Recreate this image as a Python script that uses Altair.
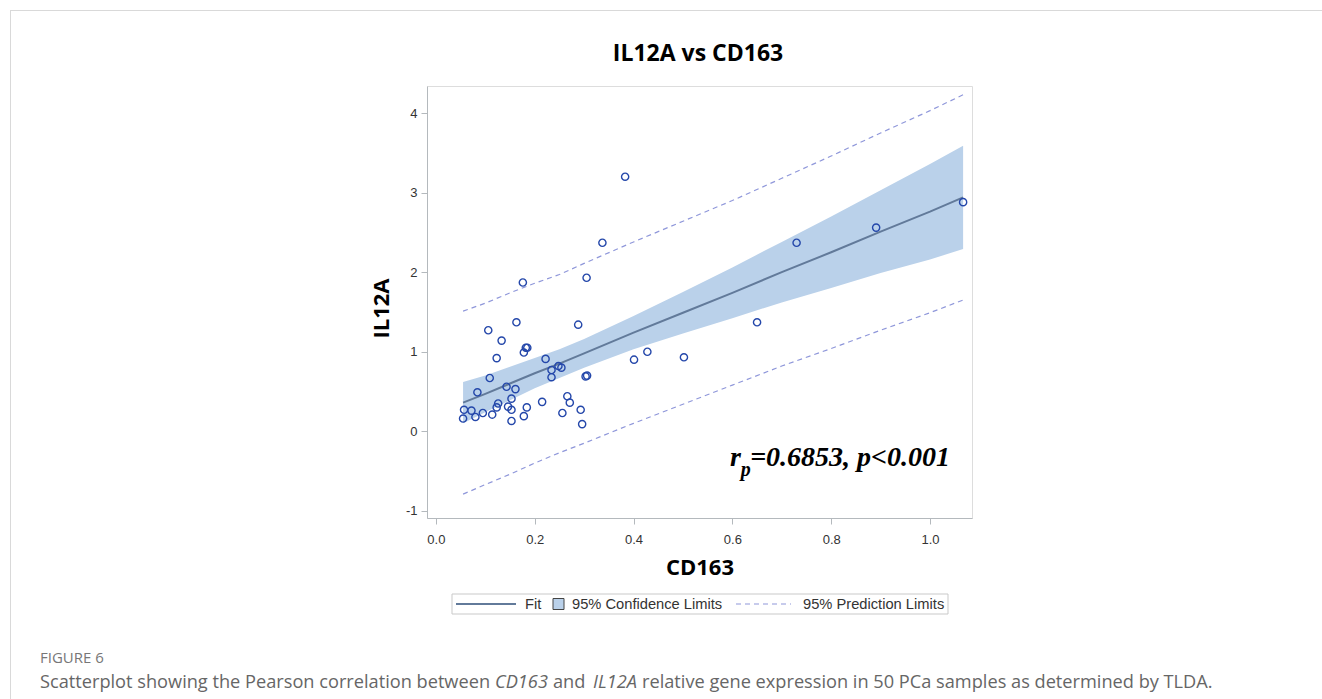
import altair as alt
import pandas as pd

# ---- data ----
cd163 = [0.176, 0.305, 0.163, 0.106, 0.288, 0.133, 0.182, 0.178, 0.123, 0.222,
         0.109, 0.234, 0.248, 0.254, 0.234, 0.303, 0.306, 0.084, 0.143, 0.161,
         0.153, 0.126, 0.123, 0.146, 0.153, 0.184, 0.215, 0.266, 0.271, 0.293,
         0.256, 0.178, 0.153, 0.296, 0.057, 0.072, 0.095, 0.114, 0.055, 0.080,
         0.383, 0.337, 0.428, 0.401, 0.502, 0.891, 0.730, 0.650, 1.067, 0.185]
il12a = [1.87, 1.93, 1.37, 1.27, 1.34, 1.14, 1.05, 0.99, 0.92, 0.91,
         0.67, 0.77, 0.82, 0.80, 0.68, 0.69, 0.70, 0.49, 0.56, 0.53,
         0.41, 0.35, 0.30, 0.31, 0.27, 0.30, 0.37, 0.44, 0.36, 0.27,
         0.23, 0.19, 0.13, 0.09, 0.27, 0.26, 0.23, 0.21, 0.16, 0.18,
         3.20, 2.37, 1.00, 0.90, 0.93, 2.56, 2.37, 1.37, 2.88, 1.05]

band_x = [0.055, 0.10, 0.15, 0.20, 0.25, 0.30, 0.40, 0.50, 0.60, 0.70, 0.80, 0.90, 1.00, 1.067]
fit_y = [0.36, 0.47, 0.60, 0.73, 0.85, 0.98, 1.24, 1.49, 1.74, 2.00, 2.25, 2.51, 2.76, 2.94]
cl_lo = [0.10, 0.24, 0.39, 0.54, 0.67, 0.80, 1.03, 1.23, 1.42, 1.62, 1.80, 1.99, 2.16, 2.29]
cl_hi = [0.62, 0.70, 0.81, 0.92, 1.03, 1.16, 1.45, 1.75, 2.06, 2.38, 2.70, 3.03, 3.36, 3.59]
pl_lo = [-0.79, -0.67, -0.54, -0.40, -0.27, -0.15, 0.10, 0.34, 0.58, 0.82, 1.04, 1.27, 1.49, 1.65]
pl_hi = [1.51, 1.61, 1.74, 1.86, 1.97, 2.11, 2.38, 2.64, 2.90, 3.18, 3.46, 3.75, 4.03, 4.23]

x_ticks = [0.0, 0.2, 0.4, 0.6, 0.8, 1.0]
y_ticks = [-1, 0, 1, 2, 3, 4]
x_domain = [-0.018, 1.085]
y_domain = [-1.09, 4.34]

chart_title = "IL12A vs CD163"
x_title = "CD163"
y_title = "IL12A"
stat_r = "r"
stat_sub = "p"
stat_rest = "=0.6853, p<0.001"
legend_labels = ["Fit", "95% Confidence Limits", "95% Prediction Limits"]
fig_label = "FIGURE 6"
caption_parts = ["Scatterplot showing the Pearson correlation between ", "CD163", " and ",
                 "IL12A", " relative gene expression in 50 PCa samples as determined by TLDA."]

# ---- styles ----
PT_COLOR = "#2447aa"
FIT_COLOR = "#627a9a"
BAND_COLOR = "#bad1ea"
PL_COLOR = "#8f97da"
GRID_GRAY = "#b4b9bd"
SANS = "Liberation Sans"
TITLE_FONT = "Open Sans"

pts = pd.DataFrame({"x": cd163, "y": il12a})
band = pd.DataFrame({"x": band_x, "fit": fit_y, "cl_lo": cl_lo, "cl_hi": cl_hi,
                     "pl_lo": pl_lo, "pl_hi": pl_hi})

xs = alt.Scale(domain=x_domain, nice=False, zero=False)
ys = alt.Scale(domain=y_domain, nice=False, zero=False)

x_axis = alt.Axis(values=x_ticks, format=".1f", title=x_title, grid=False,
                  labelFont=SANS, labelFontSize=13, labelColor="#333333",
                  tickColor=GRID_GRAY, tickSize=6, labelPadding=9,
                  domainColor=GRID_GRAY, titleFont=TITLE_FONT, titleFontSize=22,
                  titleFontWeight="bold", titleColor="#000000", titlePadding=11)
y_axis = alt.Axis(values=y_ticks, title=y_title, grid=False,
                  labelExpr="'' + datum.value",
                  labelFont=SANS, labelFontSize=13, labelColor="#333333",
                  tickColor=GRID_GRAY, tickSize=6, labelPadding=4,
                  domainColor=GRID_GRAY, titleFont=TITLE_FONT, titleFontSize=22,
                  titleFontWeight="bold", titleColor="#000000", titlePadding=12,
                  titleY=222)

base = alt.Chart(band)
area = base.mark_area(color=BAND_COLOR, opacity=1).encode(
    x=alt.X("x:Q", scale=xs, axis=x_axis),
    y=alt.Y("cl_lo:Q", scale=ys, axis=y_axis),
    y2="cl_hi:Q")
fit = base.mark_line(color=FIT_COLOR, strokeWidth=2).encode(
    x=alt.X("x:Q", scale=xs), y=alt.Y("fit:Q", scale=ys))
pl1 = base.mark_line(color=PL_COLOR, strokeWidth=1.2, strokeDash=[5, 4]).encode(
    x=alt.X("x:Q", scale=xs), y=alt.Y("pl_lo:Q", scale=ys))
pl2 = base.mark_line(color=PL_COLOR, strokeWidth=1.2, strokeDash=[5, 4]).encode(
    x=alt.X("x:Q", scale=xs), y=alt.Y("pl_hi:Q", scale=ys))
points = alt.Chart(pts).mark_point(shape="circle", filled=False, size=52,
                                   strokeWidth=1.4, color=PT_COLOR, opacity=1).encode(
    x=alt.X("x:Q", scale=xs), y=alt.Y("y:Q", scale=ys))

# annotation anchored in data coordinates
ann = pd.DataFrame({"x": [0.595, 0.617, 0.636], "y": [-0.44, -0.56, -0.44],
                    "t": [stat_r, stat_sub, stat_rest]})
ann_main = alt.Chart(ann.iloc[[0, 2]]).mark_text(
    font="Liberation Serif", fontSize=28, fontStyle="italic", fontWeight="bold",
    align="left", baseline="alphabetic", color="#000000").encode(
    x=alt.X("x:Q", scale=xs), y=alt.Y("y:Q", scale=ys), text="t:N")
ann_sub = alt.Chart(ann.iloc[[1]]).mark_text(
    font="Liberation Serif", fontSize=20, fontStyle="italic", fontWeight="bold",
    align="left", baseline="alphabetic", color="#000000").encode(
    x=alt.X("x:Q", scale=xs), y=alt.Y("y:Q", scale=ys), text="t:N")

one = pd.DataFrame({"k": [0]})
# plot origin at (427, 86) in page pixels; decorations are offsets from it
OX, OY = 427, 86


def px(v):
    return alt.value(v - OX)


def py(v):
    return alt.value(v - OY)


title_txt = alt.Chart(one).mark_text(
    text=chart_title, font=TITLE_FONT, fontSize=23, fontWeight="bold", color="#000000",
    align="center", baseline="middle").encode(x=px(698), y=py(54))

frame_top = alt.Chart(one).mark_rule(color="#d9d9d9", strokeWidth=1).encode(
    x=px(10), x2=px(1322), y=py(10.5))
frame_left = alt.Chart(one).mark_rule(color="#d9d9d9", strokeWidth=1).encode(
    x=px(10.5), y=py(10), y2=py(699))

leg_box = alt.Chart(one).mark_rect(fill="#ffffff", stroke="#c9c9c9", strokeWidth=1).encode(
    x=px(452), x2=px(948), y=py(594), y2=py(614))
leg_line = alt.Chart(one).mark_rule(color=FIT_COLOR, strokeWidth=2).encode(
    x=px(456), x2=px(516), y=py(604))
leg_sq = alt.Chart(one).mark_rect(fill=BAND_COLOR, stroke="#444444", strokeWidth=1).encode(
    x=px(553), x2=px(564), y=py(598.5), y2=py(609.5))
leg_dash = alt.Chart(one).mark_rule(color=PL_COLOR, strokeWidth=1.2, strokeDash=[5, 4]).encode(
    x=px(736), x2=px(791), y=py(604))
leg_texts = []
for lab, xpos in zip(legend_labels, [525, 572, 803]):
    leg_texts.append(alt.Chart(one).mark_text(
        text=lab, font=SANS, fontSize=14.7, color="#333333", align="left",
        baseline="middle").encode(x=px(xpos), y=py(604.5)))

fig_txt = alt.Chart(one).mark_text(
    text=fig_label, font="Open Sans", fontSize=15, color="#777777", align="left",
    baseline="middle").encode(x=px(40), y=py(658))
cap_x = [40, 495, 553, 593, 642]
cap_italic = [False, True, False, True, False]
cap_marks = []
for part, xpos, it in zip(caption_parts, cap_x, cap_italic):
    cap_marks.append(alt.Chart(one).mark_text(
        text=part, font="Open Sans", fontSize=18.2, color="#666666", align="left",
        baseline="middle", fontStyle="italic" if it else "normal").encode(
        x=px(xpos), y=py(683)))

chart = alt.layer(area, fit, pl1, pl2, points, ann_main, ann_sub, title_txt,
                  frame_top, frame_left, leg_box, leg_line, leg_sq, leg_dash,
                  *leg_texts, fig_txt, *cap_marks).properties(
    width=545, height=432,
    autosize=alt.AutoSizeParams(type="none"),
    padding={"left": OX, "top": OY, "right": 1322 - OX - 545, "bottom": 699 - OY - 432},
).configure_view(stroke=GRID_GRAY, strokeWidth=1).configure(background="#ffffff")

chart.save("out.html", embed_options={"renderer": "svg", "actions": False})
